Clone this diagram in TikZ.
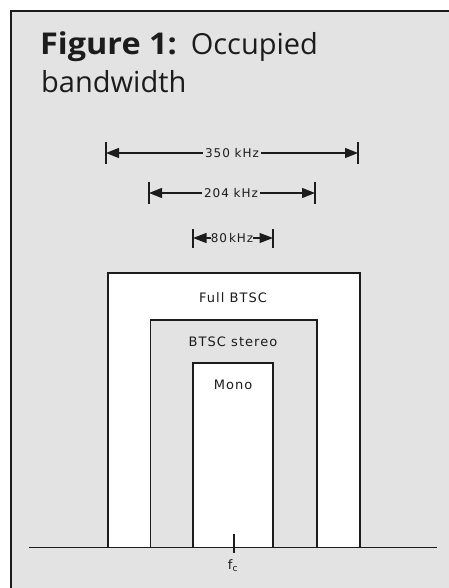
\documentclass[tikz,border=0pt]{standalone}
\usepackage{fontspec}
\usetikzlibrary{arrows.meta}
\newfontfamily\titlebold[FakeStretch=1.08]{Open Sans Bold}
\newfontfamily\titlereg{Open Sans}
\newfontfamily\lblfont[LetterSpace=8]{DejaVu Sans}
\definecolor{panel}{HTML}{E3E3E3}
\definecolor{ink}{HTML}{1C1C1C}
\tikzset{
  dimline/.style={draw=ink, line width=1.2pt, -{Triangle[length=13pt,width=10pt]}},
  endbar/.style={draw=ink, line width=1.2pt},
  dimlbl/.style={font=\lblfont\fontsize{12}{14}\selectfont, text=ink, fill=panel, inner sep=1.5pt},
  barlbl/.style={font=\lblfont\fontsize{13}{15}\selectfont, text=ink, inner sep=0pt},
  whitebar/.style={fill=white, draw=ink, line width=1.2pt},
  graybar/.style={fill=panel, draw=ink, line width=1.2pt},
  titletext/.style={anchor=base west, inner sep=0pt, text=ink},
}
\begin{document}
\begin{tikzpicture}[x=1pt, y=-1pt]
\useasboundingbox (0,0) rectangle (449,588);
\fill[white] (0,0) rectangle (449,588);
\fill[panel] (10.5,11) rectangle (449,588);
\draw[ink, line width=2pt] (10.5,588) -- (10.5,11) -- (449,11);

% title
\node[titletext] (fig) at (40,55) {{\titlebold\fontsize{30}{36}\selectfont Figure 1:}\hspace{14pt}{\titlereg\fontsize{29}{36}\selectfont Occupied}};
\node[titletext, font=\titlereg\fontsize{29}{36}\selectfont] (bw) at (41,93) {bandwidth};

% bars
\draw[whitebar] (108,547) -- (108,273) -- (360,273) -- (360,547);
\draw[graybar] (150.5,547) -- (150.5,320) -- (317,320) -- (317,547);
\draw[whitebar] (193,547) -- (193,363) -- (273,363) -- (273,547);
\node[barlbl] (full) at (233,298) {Full BTSC};
\node[barlbl] (stereo) at (233,342) {BTSC stereo};
\node[barlbl] (mono) at (233,385) {Mono};

% axis
\coordinate (axl) at (29,547.5);
\coordinate (axr) at (437,547.5);
\draw[ink, line width=1.5pt] (axl) -- (axr);
\coordinate (tkt) at (234,534);
\coordinate (tkb) at (234,553);
\draw[ink, line width=1.5pt] (tkt) -- (tkb);
\node[font=\lblfont\fontsize{13}{15}\selectfont, text=ink, inner sep=0pt] (fc) at (233,566) {f\textsubscript{c}};

% 350 kHz
\coordinate (a1) at (106,153);
\coordinate (b1) at (358,153);
\node[dimlbl] (l350) at (232,153) {350 kHz};
\draw[endbar] (106,142) -- (106,164);
\draw[endbar] (358,142) -- (358,164);
\draw[dimline] (l350.west) -- (a1);
\draw[dimline] (l350.east) -- (b1);

% 204 kHz
\coordinate (a2) at (149,193);
\coordinate (b2) at (315,193);
\node[dimlbl] (l204) at (231,193) {204 kHz};
\draw[endbar] (149,182) -- (149,204);
\draw[endbar] (315,182) -- (315,204);
\draw[dimline] (l204.west) -- (a2);
\draw[dimline] (l204.east) -- (b2);

% 80 kHz
\coordinate (a3) at (193,238);
\coordinate (b3) at (273,238);
\node[dimlbl, font=\lblfont\fontsize{12}{14}\selectfont, inner sep=0pt] (l80) at (232,238) {80\,kHz};
\draw[endbar] (193,229) -- (193,248);
\draw[endbar] (273,229) -- (273,248);
\draw[dimline, -{Triangle[length=13.5pt,width=10pt]}] (l80.west) -- (a3);
\draw[dimline, -{Triangle[length=13.5pt,width=10pt]}] (l80.east) -- (b3);
\end{tikzpicture}
\end{document}
